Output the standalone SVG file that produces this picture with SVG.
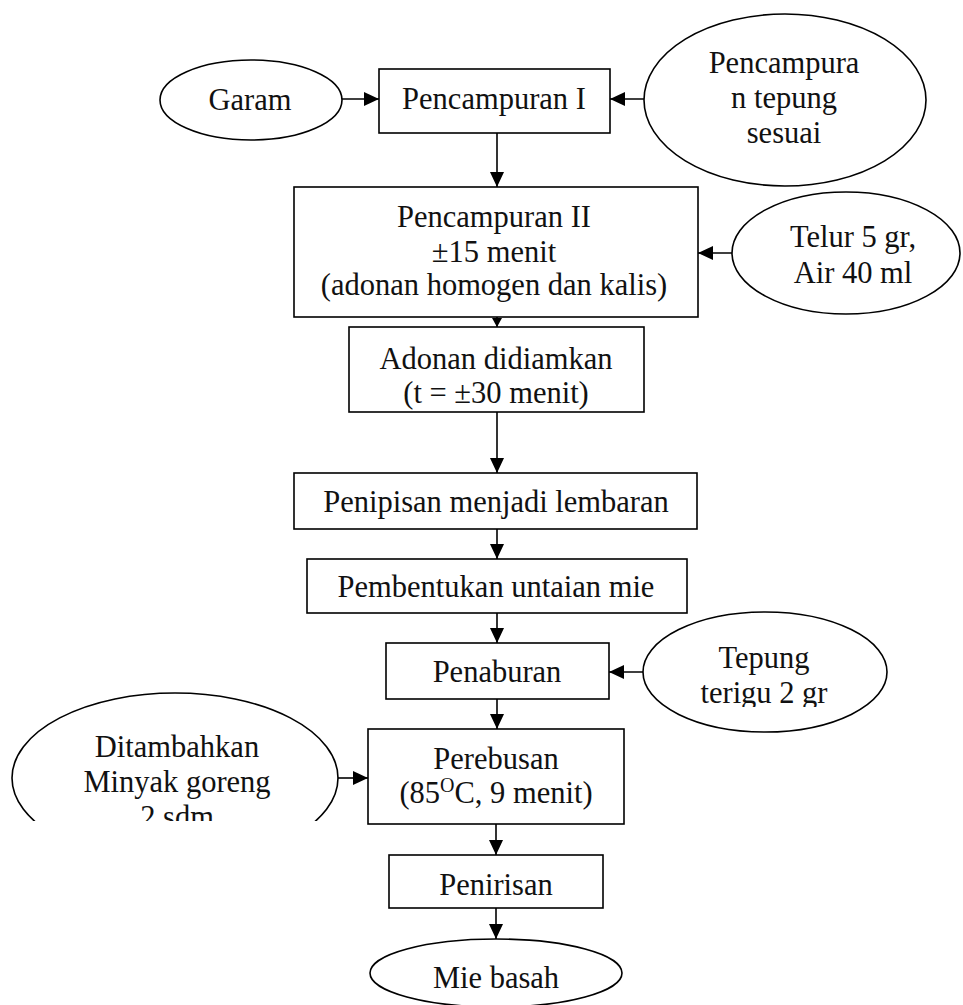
<svg xmlns="http://www.w3.org/2000/svg" width="963" height="1005" viewBox="0 0 963 1005">
<style>
.s{fill:#fff;stroke:#000;stroke-width:1.6}
.t{font-family:"Liberation Serif","Times New Roman",serif;font-size:30.5px;fill:#111;text-anchor:middle}
.c line{stroke:#000;stroke-width:1.6}
</style>
<defs>
<marker id="ah" markerUnits="userSpaceOnUse" markerWidth="16" markerHeight="14" refX="15" refY="7" orient="auto">
<path d="M0,0 L15,7 L0,14 Z" fill="#000"/>
</marker>
<marker id="ahs" markerUnits="userSpaceOnUse" markerWidth="10" markerHeight="10" refX="9" refY="5" orient="auto">
<path d="M0,0 L9,5 L0,10 Z" fill="#000"/>
</marker>
<clipPath id="cpD"><rect x="0" y="680" width="400" height="141"/></clipPath>
<clipPath id="cpT"><rect x="600" y="600" width="320" height="107"/></clipPath>
</defs>
<rect width="963" height="1005" fill="#fff"/>
<g id="garam"><ellipse class="s" cx="251" cy="100" rx="91" ry="40"/><text class="t" x="250" y="110">Garam</text></g>
<g id="p1"><rect class="s" x="379" y="69" width="231" height="64"/><text class="t" x="494" y="109">Pencampuran I</text></g>
<g id="tepungsesuai"><ellipse class="s" cx="785" cy="100" rx="141" ry="86"/><text class="t" x="784" y="73">Pencampura</text><text class="t" x="784" y="108">n tepung</text><text class="t" x="784" y="143">sesuai</text></g>
<g id="p2"><rect class="s" x="294" y="187" width="404" height="130"/><text class="t" x="494" y="227">Pencampuran II</text><text class="t" x="494" y="262">±15 menit</text><text class="t" x="494" y="295">(adonan homogen dan kalis)</text></g>
<g id="telur"><ellipse class="s" cx="846" cy="253" rx="114" ry="61"/><text class="t" x="853" y="247">Telur 5 gr,</text><text class="t" x="853" y="283">Air 40 ml</text></g>
<g id="adonan"><rect class="s" x="349" y="327" width="295" height="85"/><text class="t" x="496" y="369">Adonan didiamkan</text><text class="t" x="496" y="403">(t = ±30 menit)</text></g>
<g id="penipisan"><rect class="s" x="294" y="473" width="403" height="56"/><text class="t" x="496" y="512">Penipisan menjadi lembaran</text></g>
<g id="pembentukan"><rect class="s" x="307" y="559" width="380" height="54"/><text class="t" x="496" y="597">Pembentukan untaian mie</text></g>
<g id="penaburan"><rect class="s" x="386" y="643" width="223" height="56"/><text class="t" x="497" y="682">Penaburan</text></g>
<g id="tepung"><ellipse class="s" cx="765" cy="672" rx="122" ry="60"/><g clip-path="url(#cpT)"><text class="t" x="764" y="668">Tepung</text><text class="t" x="764" y="703">terigu 2 gr</text></g></g>
<g id="perebusan"><rect class="s" x="368" y="729" width="256" height="95"/><text class="t" x="496" y="769">Perebusan</text><text class="t" x="496" y="803">(85<tspan font-size="20" dy="-11">O</tspan><tspan dy="11">C, 9 menit)</tspan></text></g>
<g id="minyak" clip-path="url(#cpD)"><ellipse class="s" cx="175" cy="778" rx="163" ry="85"/><text class="t" x="177" y="757">Ditambahkan</text><text class="t" x="177" y="792">Minyak goreng</text><text class="t" x="177" y="827">2 sdm</text></g>
<g id="penirisan"><rect class="s" x="389" y="855" width="214" height="53"/><text class="t" x="496" y="895">Penirisan</text></g>
<g id="mie"><ellipse class="s" cx="496" cy="973" rx="126" ry="34"/><text class="t" x="496" y="988">Mie basah</text></g>
<g id="connectors" class="c">
<line x1="342" y1="99" x2="379" y2="99" marker-end="url(#ah)"/>
<line x1="644" y1="99" x2="610" y2="99" marker-end="url(#ah)"/>
<line x1="497" y1="133" x2="497" y2="187" marker-end="url(#ah)"/>
<line x1="732" y1="253" x2="698" y2="253" marker-end="url(#ah)"/>
<line x1="497" y1="317" x2="497" y2="327" marker-end="url(#ahs)"/>
<line x1="497" y1="412" x2="497" y2="473" marker-end="url(#ah)"/>
<line x1="497" y1="529" x2="497" y2="559" marker-end="url(#ah)"/>
<line x1="497" y1="613" x2="497" y2="643" marker-end="url(#ah)"/>
<line x1="643" y1="672" x2="609" y2="672" marker-end="url(#ah)"/>
<line x1="497" y1="699" x2="497" y2="729" marker-end="url(#ah)"/>
<line x1="338" y1="778" x2="368" y2="778" marker-end="url(#ah)"/>
<line x1="496" y1="824" x2="496" y2="855" marker-end="url(#ah)"/>
<line x1="496" y1="908" x2="496" y2="939" marker-end="url(#ah)"/>
</g>
</svg>
